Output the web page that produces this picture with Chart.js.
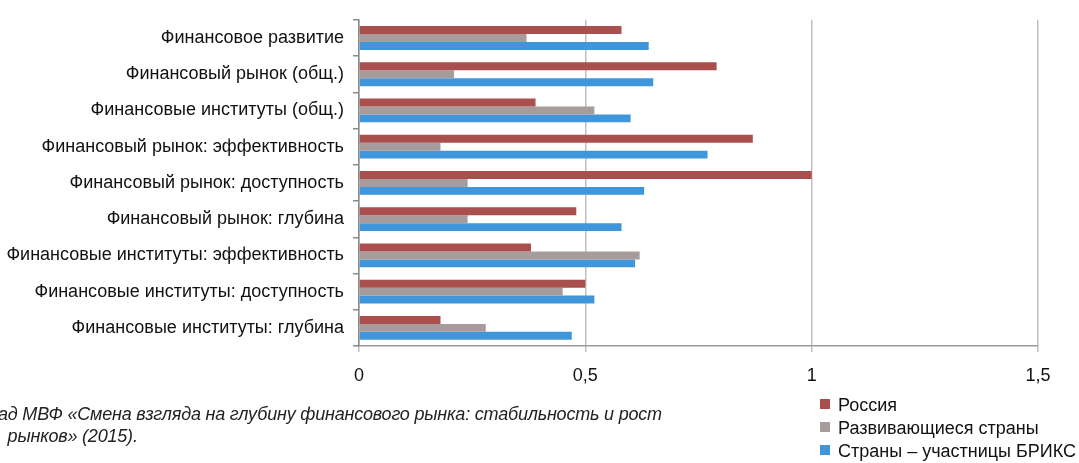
<!DOCTYPE html>
<html>
<head>
<meta charset="utf-8">
<script src="https://cdn.jsdelivr.net/npm/chart.js@4/dist/chart.umd.min.js"></script>
<style>
  html, body { margin: 0; padding: 0; background: #fff; overflow: hidden; }
  #wrap { position: relative; width: 1079px; height: 463px; }
  #note { position: absolute; left: -2px; top: 403px; font: italic 18px "Liberation Sans", Arial, sans-serif; color: #222; line-height: 22px; letter-spacing: -0.2px; white-space: nowrap; }
  #legend { position: absolute; left: 820px; top: 394px; font: 18px "Liberation Sans", Arial, sans-serif; color: #111; }
  #legend div { height: 23px; line-height: 22px; white-space: nowrap; }
  #legend span { display: inline-block; width: 10px; height: 10px; margin-right: 8px; vertical-align: 2px; }
</style>
</head>
<body>
<div id="wrap">
  <canvas id="chart" width="1079" height="463"></canvas>
  <div id="note">ад МВФ «Смена взгляда на глубину финансового рынка: стабильность и рост<br>&nbsp;&nbsp;рынков» (2015).</div>
  <div id="legend"></div>
</div>
<script>
const categories = [
  'Финансовое развитие',
  'Финансовый рынок (общ.)',
  'Финансовые институты (общ.)',
  'Финансовый рынок: эффективность',
  'Финансовый рынок: доступность',
  'Финансовый рынок: глубина',
  'Финансовые институты: эффективность',
  'Финансовые институты: доступность',
  'Финансовые институты: глубина'
];
const seriesNames = ['Россия', 'Развивающиеся страны', 'Страны – участницы БРИКС'];
const russia = [0.58, 0.79, 0.39, 0.87, 1.0, 0.48, 0.38, 0.50, 0.18];
const emerging = [0.37, 0.21, 0.52, 0.18, 0.24, 0.24, 0.62, 0.45, 0.28];
const brics = [0.64, 0.65, 0.60, 0.77, 0.63, 0.58, 0.61, 0.52, 0.47];
const xTicks = [0, 0.5, 1, 1.5];

const colors = ['#A94F4E', '#A89B9C', '#3F96DA'];
const values = [russia, emerging, brics];

const font = { family: '"Liberation Sans", Arial, sans-serif', size: 18 };

const chart = new Chart(document.getElementById('chart'), {
  type: 'bar',
  data: {
    labels: categories,
    datasets: values.map((v, i) => ({
      label: seriesNames[i],
      data: v,
      backgroundColor: colors[i],
      borderWidth: 0,
      barPercentage: 1.0,
      categoryPercentage: 0.66
    }))
  },
  options: {
    indexAxis: 'y',
    responsive: false,
    animation: false,
    layout: { padding: { top: 16, right: 41, bottom: 77, left: 0 } },
    plugins: { legend: { display: false }, tooltip: { enabled: false } },
    scales: {
      x: {
        min: 0,
        max: 1.5,
        afterBuildTicks: (scale) => { scale.ticks = xTicks.map(v => ({ value: v })); },
        afterFit: (scale) => { scale.height = 40; },
        ticks: {
          color: '#111',
          font: font,
          padding: 13,
          callback: (v) => String(v).replace('.', ',')
        },
        grid: { color: '#BFBFBF', lineWidth: 1.5, tickLength: 6 },
        border: { color: '#9A9A9A', width: 1.5 }
      },
      y: {
        afterFit: (scale) => { scale.width = 359; },
        ticks: { color: '#111', font: font, padding: 9 },
        grid: { drawOnChartArea: false, color: '#8A8A8A', lineWidth: 1.5, tickLength: 6 },
        border: { color: '#8A8A8A', width: 1.5 }
      }
    }
  }
});

const legend = document.getElementById('legend');
seriesNames.forEach((name, i) => {
  const row = document.createElement('div');
  row.innerHTML = '<span style="background:' + colors[i] + '"></span>' + name;
  legend.appendChild(row);
});
</script>
</body>
</html>
